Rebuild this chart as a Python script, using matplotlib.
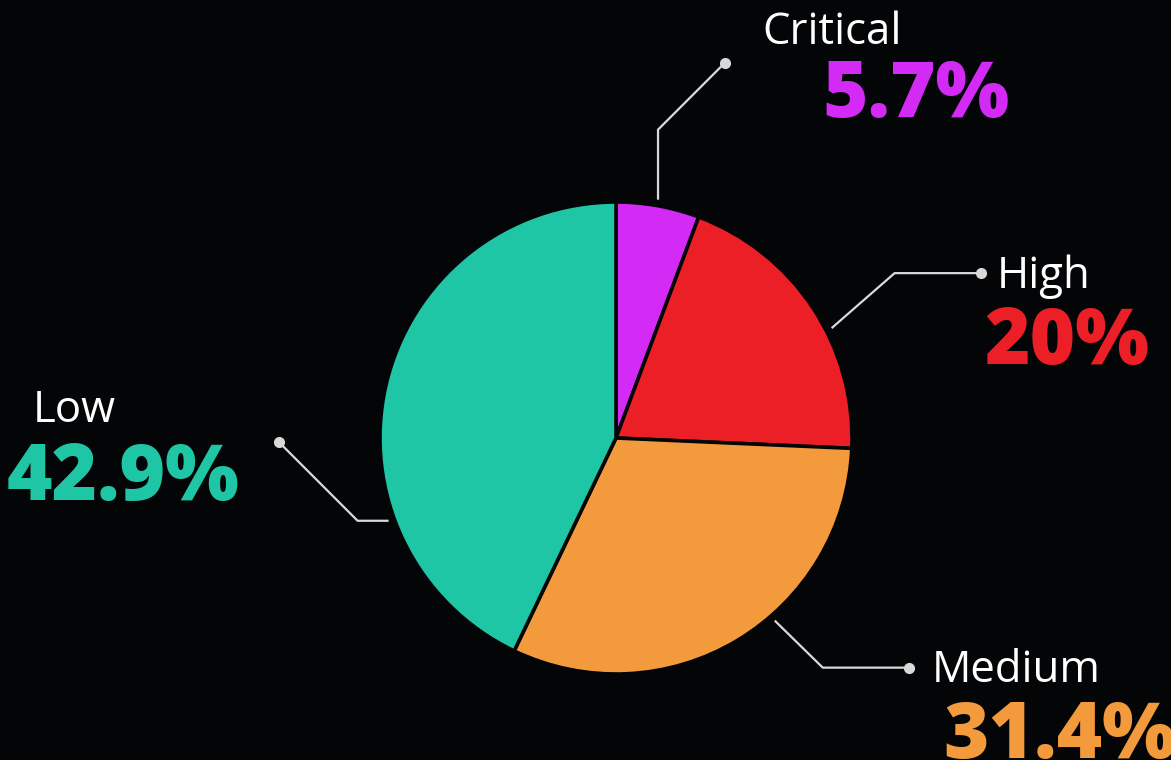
import matplotlib
matplotlib.use("Agg")
import matplotlib.pyplot as plt
import numpy as np

# severity split
labels = ["Critical", "High", "Medium", "Low"]
shares = [5.7, 20, 31.4, 42.9]
colors = ["#d42af5", "#ec1f26", "#f39a3c", "#1ec6a5"]

BG = "#040507"
LINE = "#d9d9d9"
W, H = 1171, 760
CX, CY, R = 616, 438, 236

# leader line: angle on the rim (deg clockwise from top), elbow leg, end leg
leaders = {
    "Critical": (10, (0, -70), (67, -67)),
    "High": (63, (63, -55), (86, 0)),
    "Medium": (139, (48, 47), (86, 0)),
    "Low": (250, (-31, 0), (-79, -79)),
}
# text placement: (left x, name baseline, value baseline)
text_pos = {
    "Critical": ((762, 44), (822, 117)),
    "High": ((997, 288), (984, 364)),
    "Medium": ((932, 682), (943, 758)),
    "Low": ((33, 422), (7, 500)),
}

fig = plt.figure(figsize=(W / 100, H / 100), dpi=100)
fig.patch.set_facecolor(BG)
ax = fig.add_axes([0, 0, 1, 1])
ax.set_facecolor(BG)

# y runs downward, so counterclock in data space is clockwise on screen
ax.pie(shares, colors=colors, center=(CX, CY), radius=R, startangle=270,
       counterclock=True, wedgeprops=dict(edgecolor=BG, linewidth=2.6))
ax.set_xlim(0, W)
ax.set_ylim(H, 0)
ax.set_aspect("equal")
ax.axis("off")

for name, value, color in zip(labels, shares, colors):
    ang, leg1, leg2 = leaders[name]
    a = np.radians(ang)
    x0 = CX + (R + 6) * np.sin(a)
    y0 = CY - (R + 6) * np.cos(a)
    x1, y1 = x0 + leg1[0], y0 + leg1[1]
    x2, y2 = x1 + leg2[0], y1 + leg2[1]
    ax.plot([x0, x1, x2], [y0, y1, y2], color=LINE, lw=1.6, solid_capstyle="butt", zorder=3)
    ax.plot([x2], [y2], "o", color=LINE, ms=7, zorder=4)

    (nx, ny), (vx, vy) = text_pos[name]
    ax.text(nx, ny, name, color="white", fontsize=31.5, family="Open Sans",
            ha="left", va="baseline")
    ax.text(vx, vy, f"{value:g}%", color=color, fontsize=56, family="Open Sans",
            fontweight="heavy", ha="left", va="baseline")

fig.savefig("out.png", dpi=100, facecolor=BG)
